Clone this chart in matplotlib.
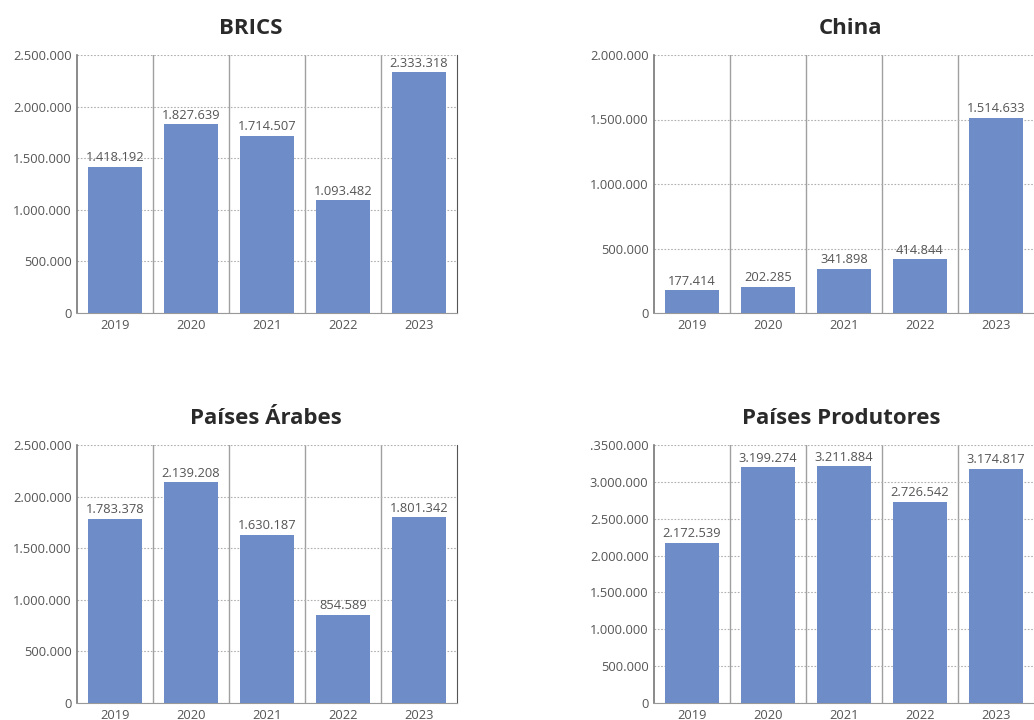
import matplotlib
matplotlib.use("Agg")
import matplotlib.pyplot as plt

plt.rcParams["font.family"] = ["Open Sans", "DejaVu Sans"]

years = ["2019", "2020", "2021", "2022", "2023"]

brics = [1418192, 1827639, 1714507, 1093482, 2333318]
china = [177414, 202285, 341898, 414844, 1514633]
arabes = [1783378, 2139208, 1630187, 854589, 1801342]
produtores = [2172539, 3199274, 3211884, 2726542, 3174817]

ticks_25 = ["0", "500.000", "1.000.000", "1.500.000", "2.000.000", "2.500.000"]
ticks_20 = ["0", "500.000", "1.000.000", "1.500.000", "2.000.000"]
ticks_35 = ["0", "500.000", "1.000.000", "1.500.000", "2.000.000", "2.500.000",
            "3.000.000", ".3500.000"]

BAR = "#6e8cc8"
TXT = "#555555"


def fmt(v):
    return f"{v:,}".replace(",", ".")


def panel(rect, title, title_x, values, ticklabels, right_spine=True):
    ax = fig.add_axes(rect)
    x = range(len(years))
    ax.bar(x, values, width=0.72, color=BAR, zorder=3)
    top = 500000 * (len(ticklabels) - 1)
    ax.set_ylim(0, top)
    ax.set_xlim(-0.5, len(years) - 0.5)
    ax.set_yticks([500000 * i for i in range(len(ticklabels))])
    ax.set_yticklabels(ticklabels)
    ax.set_xticks(list(x))
    ax.set_xticklabels(years)
    ax.tick_params(length=0, labelsize=9.3, colors=TXT, pad=4)
    ax.yaxis.grid(True, linestyle=(0, (1.5, 1.5)), color="#b0b0b0", lw=0.8, zorder=0)
    for b in range(1, len(years)):
        ax.axvline(b - 0.5, color="#a0a0a0", lw=1.0, zorder=1)
    ax.spines["top"].set_visible(False)
    ax.spines["left"].set_color("#777777")
    ax.spines["left"].set_linewidth(1.2)
    ax.spines["bottom"].set_color("#999999")
    ax.spines["right"].set_color("#555555")
    ax.spines["right"].set_visible(right_spine)
    for i, v in enumerate(values):
        ax.text(i, v + top * 0.01, fmt(v), ha="center", va="bottom",
                fontsize=9.3, color=TXT, zorder=4)
    fig.text(title_x, rect[1] + rect[3] + 0.022, title, ha="center", va="bottom",
             fontsize=16, fontweight="bold", color="#2a2a2a")
    return ax


fig = plt.figure(figsize=(10.34, 7.2), dpi=100)

w = 380 / 1034
h = (313 - 55) / 720
panel([77 / 1034, 1 - 313 / 720, w, h], "BRICS", 251 / 1034, brics, ticks_25)
panel([654 / 1034, 1 - 313 / 720, w, h], "China", 851 / 1034, china, ticks_20,
      right_spine=False)
panel([77 / 1034, 1 - 703 / 720, w, h], "Países Árabes", 266 / 1034, arabes, ticks_25)
panel([654 / 1034, 1 - 703 / 720, w, h], "Países Produtores", 841 / 1034,
      produtores, ticks_35, right_spine=False)

fig.savefig("out.png", dpi=100)
